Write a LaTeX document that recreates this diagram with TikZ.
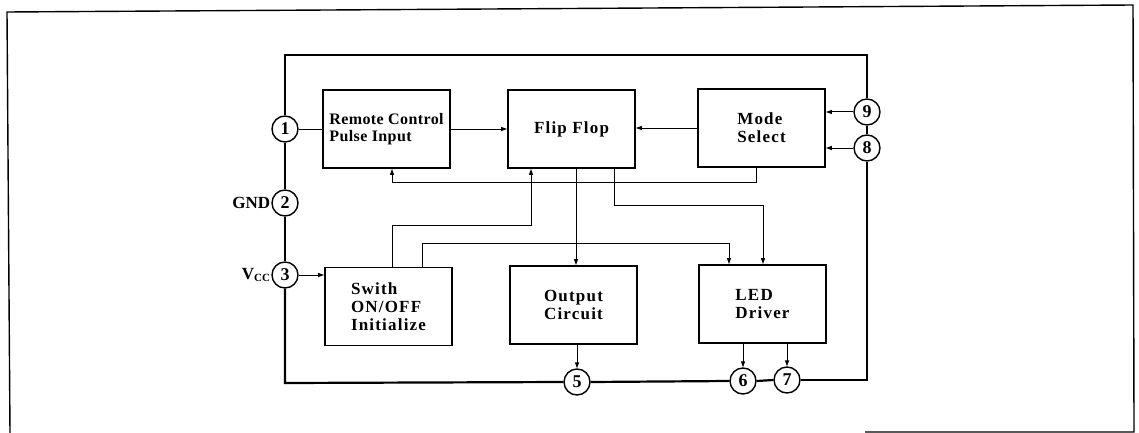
\documentclass[tikz,border=0pt]{standalone}
\usepackage{fontspec}
\setmainfont{Liberation Serif}
\usetikzlibrary{arrows.meta}
\begin{document}
\begin{tikzpicture}[x=1pt,y=-1pt,
  txt/.style={font=\fontsize{17}{18}\selectfont\bfseries\addfontfeatures{LetterSpace=7}},
  blk/.style={draw,line width=1.8pt,minimum width=127pt,minimum height=78pt,inner sep=0pt,txt,align=left},
  pin/.style={draw,circle,line width=1.4pt,minimum size=26pt,inner sep=0pt,fill=white,font=\fontsize{18}{18}\selectfont\bfseries},
  ic/.style={line width=2.2pt},
  sig/.style={line width=1pt},
  arr/.style={sig,-{Triangle[length=6pt,width=4pt]}},
  frame/.style={line width=1.4pt}]
\useasboundingbox (0,0) rectangle (1139,433);
% outer frame
\draw[frame] (865,432) -- (1134,432) -- (1133,5) -- (7,12) -- (10,433);
% blocks
\node[blk,font=\fontsize{16}{17.5}\selectfont\bfseries\addfontfeatures{LetterSpace=2.5}] (rc) at (386.5,129) {Remote Control\\Pulse Input};
\node[blk] (ff) at (571.5,129) {Flip Flop};
\node[blk] (ms) at (761.5,128) {Mode\\Select};
\node[blk] (sw) at (388.5,306.5) {Swith\\ON/OFF\\Initialize};
\node[blk] (oc) at (573.5,305) {Output\\Circuit};
\node[blk] (led) at (762.5,304) {LED\\Driver};
% pins
\node[pin] (p1) at (285,129) {1};
\node[pin] (p2) at (285,203) {2};
\node[pin] (p3) at (285,275) {3};
\node[pin] (p5) at (577,382) {5};
\node[pin] (p6) at (743,381) {6};
\node[pin] (p7) at (787,380) {7};
\node[pin] (p9) at (867,112) {9};
\node[pin] (p8) at (867,148) {8};
\node[txt,anchor=east,inner sep=1pt,font=\fontsize{17}{18}\selectfont\bfseries] (gnd) at (p2.west) {GND};
\node[txt,anchor=east,inner sep=1pt,font=\fontsize{17}{18}\selectfont\bfseries] (vcc) at (p3.west) {V\raisebox{-2.5pt}{\fontsize{11}{11}\selectfont CC}};
% IC boundary
\draw[ic] (p1.north) -- (285,55) -- (867,55) -- (p9.north);
\draw[ic] (p9.south) -- (p8.north);
\draw[ic] (p1.south) -- (p2.north);
\draw[ic] (p2.south) -- (p3.north);
\draw[ic] (p3.south) -- (285,383) -- (p5.west);
\draw[ic] (p5.east) -- (p6.west);
\draw[ic] (p6.east) -- (p7.west);
\draw[ic] (p7.east) -- (867,380) -- (p8.south);
% signals
\draw[sig] (p1.east) -- (rc.west);
\draw[arr] (rc.east) -- (ff.west);
\draw[arr] (ms.west) -- (ms.west -| ff.east);
\draw[arr] (p9.west) -- (p9.west -| ms.east);
\draw[arr] (p8.west) -- (p8.west -| ms.east);
\draw[arr] ([xshift=-5.5pt]ms.south) -- ++(0,15) -| ([xshift=5.5pt]rc.south);
\draw[arr] ([xshift=3.5pt]sw.north) -- ++(0,-41) -| ([xshift=-40.5pt]ff.south);
\draw[arr] ([xshift=33.5pt]sw.north) -- ++(0,-23) -| ([xshift=-33.5pt]led.north);
\draw[arr] ([xshift=4.5pt]ff.south) -- ([xshift=4.5pt]ff.south |- oc.north);
\draw[arr] ([xshift=42.5pt]ff.south) -- ++(0,37) -| ([xshift=0.5pt]led.north);
\draw[arr] (p3.east) -- (p3.east -| sw.west);
\draw[arr] (p5.north |- oc.south) -- (p5.north);
\draw[arr] (p6.north |- led.south) -- (p6.north);
\draw[arr] (p7.north |- led.south) -- (p7.north);
\end{tikzpicture}
\end{document}
